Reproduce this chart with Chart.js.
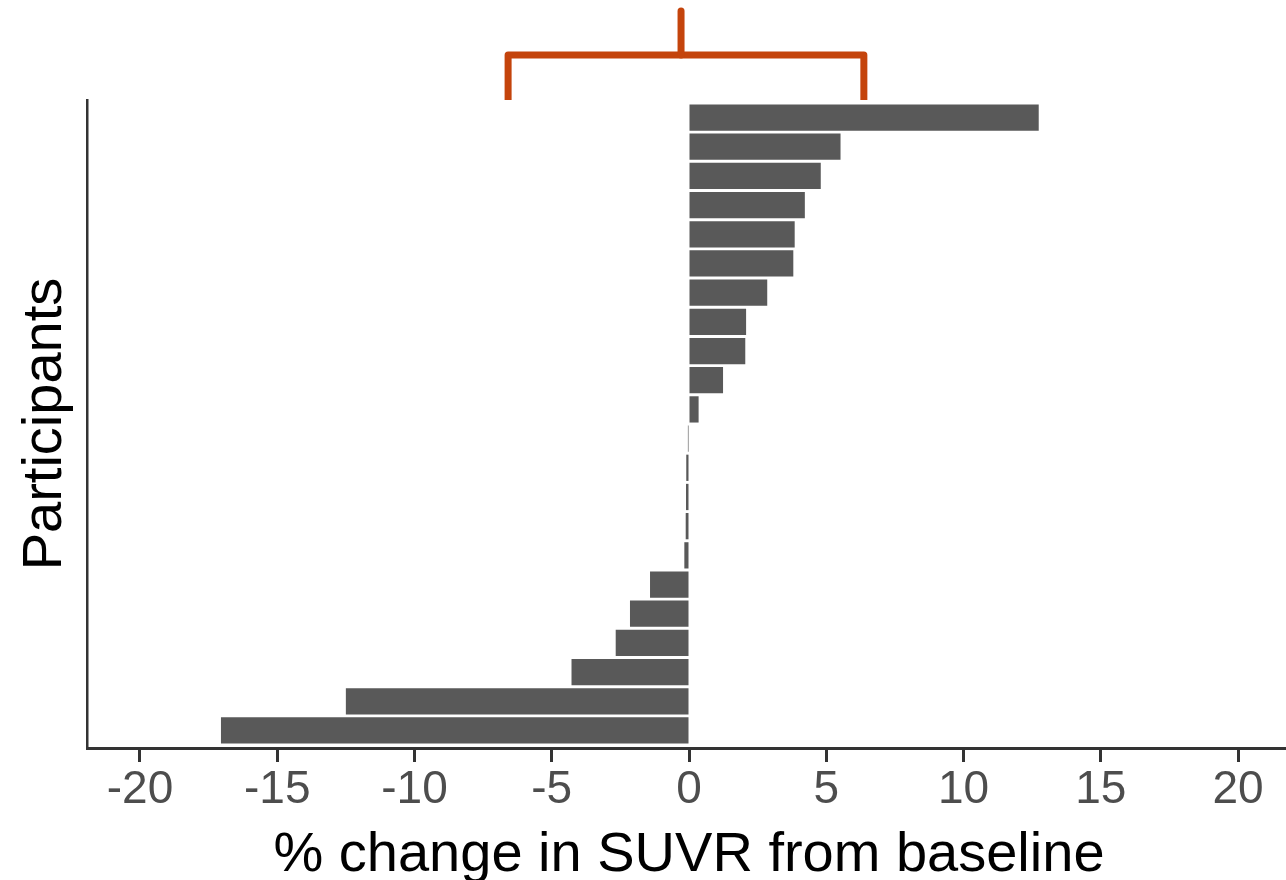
<!DOCTYPE html>
<html>
<head>
<meta charset="utf-8">
<title>% change in SUVR from baseline</title>
<script src="https://cdn.jsdelivr.net/npm/chart.js@4.4.1/dist/chart.umd.min.js"></script>
<style>
    html, body { margin: 0; padding: 0; background: #ffffff; overflow: hidden; }
    #wrap { position: relative; width: 1292px; height: 900px; }
</style>
</head>
<body>
<div id="wrap"><canvas id="chart"></canvas></div>
<script>
// Data (top bar first)
const participants = ['P1', 'P2', 'P3', 'P4', 'P5', 'P6', 'P7', 'P8', 'P9', 'P10', 'P11',
    'P12', 'P13', 'P14', 'P15', 'P16', 'P17', 'P18', 'P19', 'P20', 'P21', 'P22'];
const pctChange = [12.74, 5.52, 4.80, 4.22, 3.85, 3.80, 2.85, 2.08, 2.05, 1.24, 0.35,
    -0.04, -0.10, -0.11, -0.12, -0.17, -1.42, -2.15, -2.67, -4.28, -12.50, -17.05];
const xTicks = [-20, -15, -10, -5, 0, 5, 10, 15, 20];

// Bracket over the middle range (x values in % change)
const bracketFrom = -6.59;
const bracketTo = 6.37;
const bracketStem = -0.29;

const FONT = "'Liberation Sans', Arial, Helvetica, sans-serif";
const AXIS_COLOR = '#333333';

// Draws the orange bracket above the plot using the x scale
const bracketPlugin = {
    id: 'bracket',
    afterDraw(chart) {
        const { ctx, chartArea, scales } = chart;
        const x = scales.x;
        const left = x.getPixelForValue(bracketFrom);
        const right = x.getPixelForValue(bracketTo);
        const stem = x.getPixelForValue(bracketStem);
        const legBottom = chartArea.top;
        const bar = chartArea.top - 45;
        const stemTop = chartArea.top - 89;

        ctx.save();
        ctx.strokeStyle = '#c4440c';
        ctx.lineWidth = 7;
        ctx.lineJoin = 'round';
        ctx.lineCap = 'butt';
        ctx.beginPath();
        ctx.moveTo(left, legBottom);
        ctx.lineTo(left, bar);
        ctx.lineTo(right, bar);
        ctx.lineTo(right, legBottom);
        ctx.stroke();

        ctx.lineCap = 'round';
        ctx.beginPath();
        ctx.moveTo(stem, bar);
        ctx.lineTo(stem, stemTop);
        ctx.stroke();
        ctx.restore();
    }
};

const ctx = document.getElementById('chart').getContext('2d');
new Chart(ctx, {
    type: 'bar',
    data: {
        datasets: [{
            label: '% change in SUVR',
            data: pctChange.map((v, i) => ({ x: v, y: i, name: participants[i] })),
            backgroundColor: '#595959',
            borderWidth: 0,
            barPercentage: 0.9,
            categoryPercentage: 1.0
        }]
    },
    options: {
        indexAxis: 'y',
        responsive: true,
        maintainAspectRatio: false,
        animation: false,
        layout: { padding: { top: 100, right: 1, left: 0, bottom: 0 } },
        plugins: {
            legend: { display: false },
            tooltip: { enabled: false }
        },
        scales: {
            x: {
                type: 'linear',
                position: 'bottom',
                min: -21.93,
                max: 21.93,
                afterBuildTicks: (scale) => {
                    scale.ticks = xTicks.map(v => ({ value: v }));
                },
                afterFit: (scale) => { scale.height = 152; },
                grid: {
                    drawOnChartArea: false,
                    drawTicks: true,
                    tickLength: 14,
                    tickWidth: 3,
                    tickColor: AXIS_COLOR
                },
                border: { display: true, color: AXIS_COLOR, width: 3 },
                ticks: {
                    color: '#4d4d4d',
                    padding: 1,
                    maxRotation: 0,
                    font: { family: FONT, size: 46 }
                },
                title: {
                    display: true,
                    text: '% change in SUVR from baseline',
                    color: '#000000',
                    padding: { top: 0, bottom: 11 },
                    font: { family: FONT, size: 56 }
                }
            },
            y: {
                type: 'linear',
                offset: false,
                min: -0.6,
                max: participants.length - 1 + 0.6,
                reverse: true,
                // one (hidden) tick per participant so bar width follows the row spacing
                afterBuildTicks: (scale) => {
                    scale.ticks = participants.map((p, i) => ({ value: i }));
                },
                afterFit: (scale) => { scale.width = 87; },
                grid: { display: false },
                border: { display: true, color: AXIS_COLOR, width: 2.5 },
                ticks: { display: false },
                title: {
                    display: true,
                    text: 'Participants',
                    color: '#000000',
                    padding: { top: 12, bottom: 0 },
                    font: { family: FONT, size: 56 }
                }
            }
        }
    },
    plugins: [bracketPlugin]
});
</script>
</body>
</html>
